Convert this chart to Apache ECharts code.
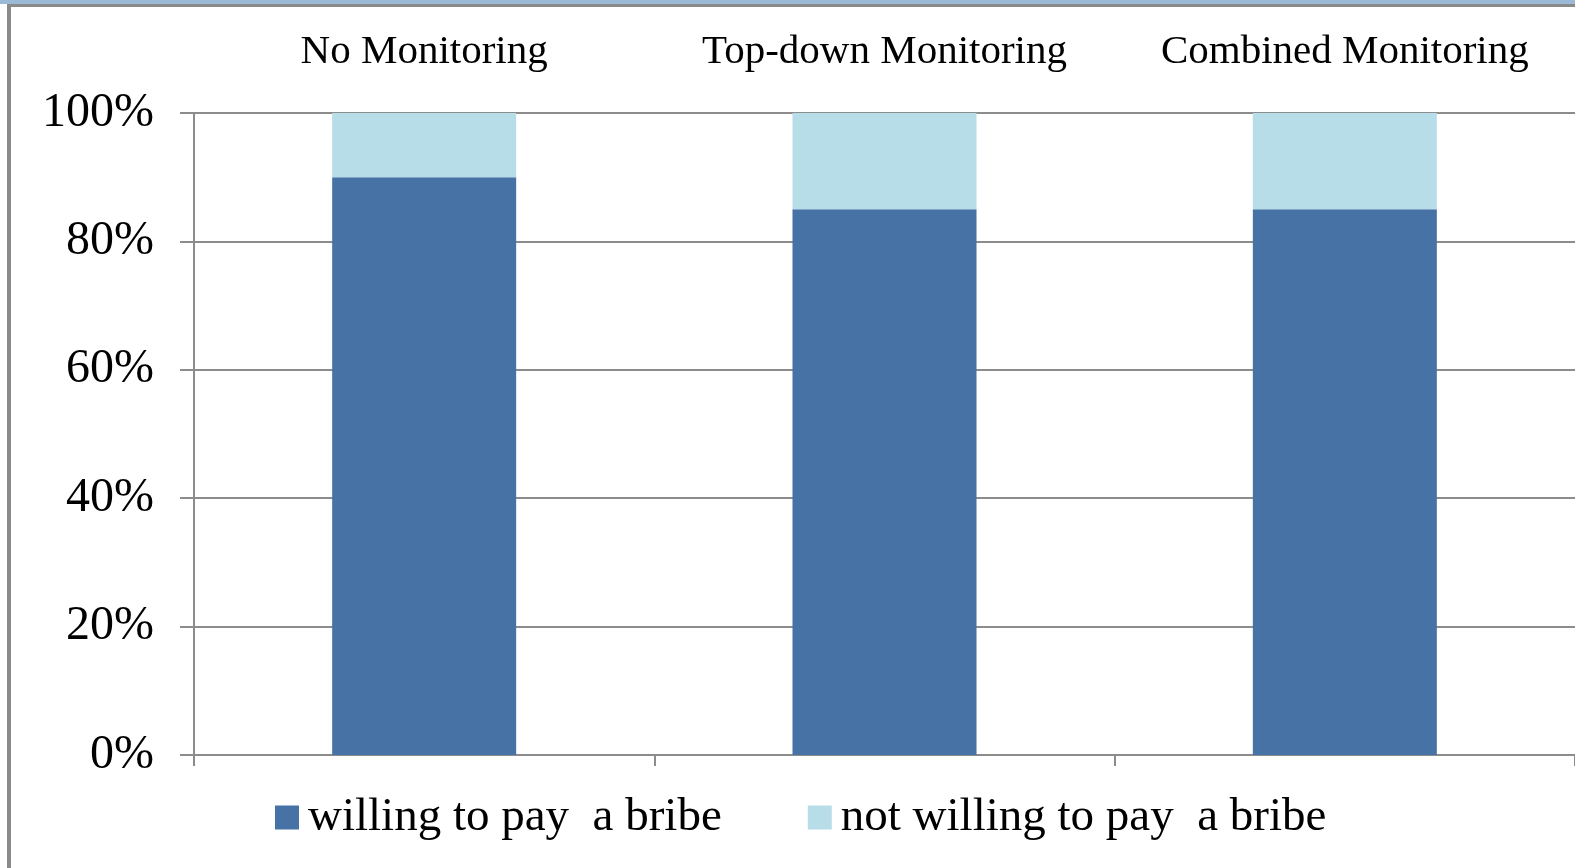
<!DOCTYPE html>
<html lang="en">

<head>
    <meta charset="utf-8">
    <title>Willingness to pay a bribe</title>
    <script src="https://cdn.jsdelivr.net/npm/echarts@6/dist/echarts.min.js"></script>
    <style>
        html, body { margin: 0; padding: 0; background: #fff; }
        #chart { width: 1575px; height: 868px; }
    </style>
</head>

<body>
    <div id="chart"></div>
    <script type="text/javascript">
        // data
        var categories = ['No Monitoring', 'Top-down Monitoring', 'Combined Monitoring'];
        var willing = [90, 85, 85];
        var notWilling = [10, 15, 15];
        var seriesNames = ['willing to pay  a bribe', 'not willing to pay  a bribe'];
        var yTicks = [0, 20, 40, 60, 80, 100];

        var serif = '"Liberation Serif", "Times New Roman", serif';
        var gridColor = '#8c8c8c';

        var myChart = echarts.init(document.getElementById('chart'));
        var option = {
            animation: false,
            backgroundColor: '#fff',
            graphic: [
                // window frame around the picture
                { type: 'rect', shape: { x: 0, y: 0, width: 1575, height: 4 }, style: { fill: '#9db9d8' } },
                { type: 'rect', shape: { x: 7, y: 4, width: 1568, height: 3 }, style: { fill: '#8a8a8a' } },
                { type: 'rect', shape: { x: 7, y: 4, width: 4, height: 864 }, style: { fill: '#8a8a8a' } }
            ],
            legend: {
                data: seriesNames,
                left: 270,
                top: 789,
                icon: 'rect',
                itemWidth: 24,
                itemHeight: 24,
                itemGap: 86,
                textStyle: { fontFamily: serif, fontSize: 47, color: '#000', padding: [0, 0, 0, 4] }
            },
            grid: { left: 194, right: 0, top: 113, bottom: 113 },
            xAxis: [{
                type: 'category',
                data: categories,
                position: 'bottom',
                axisLine: { lineStyle: { color: gridColor, width: 2 } },
                axisTick: { show: true, length: 11, lineStyle: { color: gridColor, width: 2 } },
                axisLabel: { show: false }
            }, {
                type: 'category',
                data: categories,
                position: 'top',
                axisLine: { show: false },
                axisTick: { show: false },
                axisLabel: { interval: 0, margin: 40, fontFamily: serif, fontSize: 41, color: '#000' }
            }],
            yAxis: {
                type: 'value',
                min: yTicks[0],
                max: yTicks[yTicks.length - 1],
                interval: yTicks[1] - yTicks[0],
                axisLine: { show: true, lineStyle: { color: gridColor, width: 2 } },
                axisTick: { show: true, length: 14, lineStyle: { color: gridColor, width: 2 } },
                splitLine: { lineStyle: { color: gridColor, width: 2 } },
                axisLabel: { formatter: '{value}%', margin: 40, fontFamily: serif, fontSize: 48, color: '#000' }
            },
            series: [{
                name: seriesNames[0],
                type: 'bar',
                stack: 'total',
                barWidth: 184,
                itemStyle: { color: '#4672a6' },
                data: willing
            }, {
                name: seriesNames[1],
                type: 'bar',
                stack: 'total',
                barWidth: 184,
                itemStyle: { color: '#b7dde8' },
                data: notWilling
            }]
        };
        myChart.setOption(option);
    </script>
</body>

</html>
